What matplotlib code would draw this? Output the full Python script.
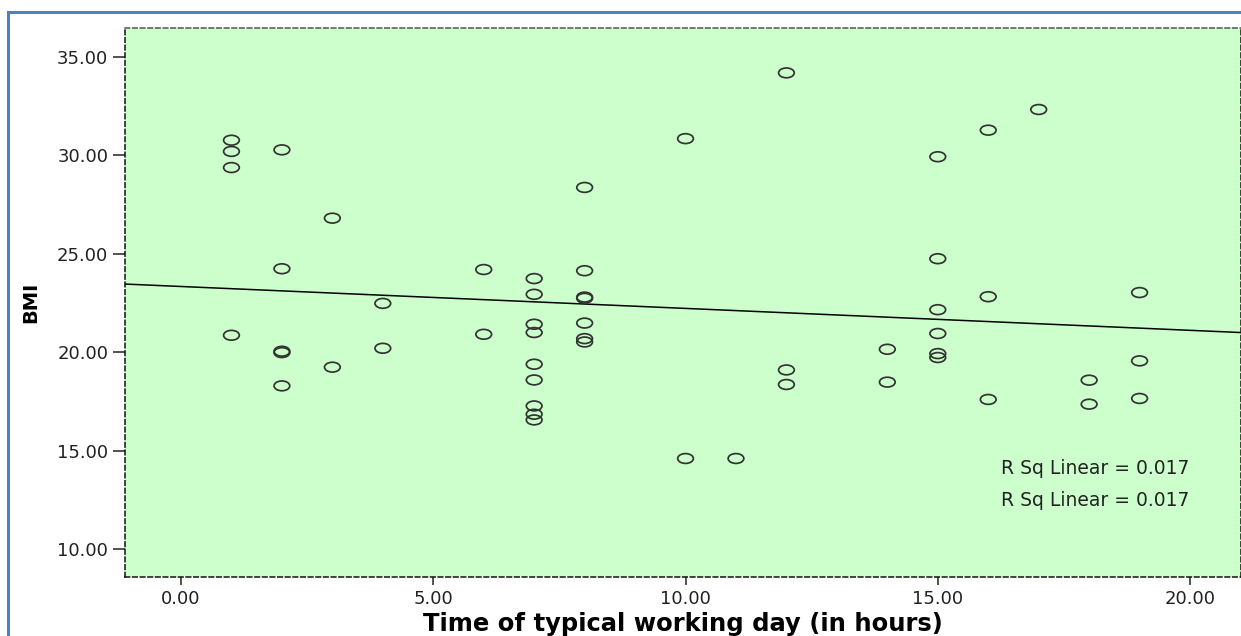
import numpy as np
import matplotlib
matplotlib.use("Agg")
import matplotlib.pyplot as plt
from matplotlib.path import Path
from matplotlib.transforms import Affine2D
from matplotlib.lines import Line2D

# Data: hours of typical working day vs BMI
hours = [1, 1, 1, 1,
         2, 2, 2, 2, 2,
         3, 3,
         4, 4,
         6, 6,
         7, 7, 7, 7, 7, 7, 7, 7, 7,
         8, 8, 8, 8, 8, 8, 8,
         10, 10,
         11,
         12, 12, 12,
         14, 14,
         15, 15, 15, 15, 15, 15,
         16, 16, 16,
         17,
         18, 18,
         19, 19, 19]
bmi = [30.77, 30.20, 29.38, 20.86,
       30.28, 24.24, 20.05, 19.98, 18.29,
       26.81, 19.24,
       22.48, 20.20,
       24.20, 20.91,
       23.74, 22.94, 21.42, 21.00, 19.39, 18.59, 17.27, 16.85, 16.56,
       28.37, 24.14, 22.80, 22.74, 21.48, 20.69, 20.52,
       30.85, 14.60,
       14.60,
       34.19, 19.10, 18.36,
       20.15, 18.48,
       29.93, 24.75, 22.16, 20.95, 19.93, 19.73,
       31.28, 22.82, 17.60,
       32.33,
       18.58, 17.36,
       23.03, 19.56, 17.65]

x_ticks = [0, 5, 10, 15, 20]
y_ticks = [10, 15, 20, 25, 30, 35]
x_label = "Time of typical working day (in hours)"
y_label = "BMI"
r2_text = "R Sq Linear = 0.017"

W, H = 1241, 636
fig = plt.figure(figsize=(W / 100, H / 100), dpi=100)
fig.patch.set_facecolor("white")

# outer blue frame
fig.add_artist(Line2D([8 / W, 8 / W], [0, 1 - 12 / H], color="#4f81bd", lw=2.2,
                      transform=fig.transFigure))
fig.add_artist(Line2D([8 / W, 1], [1 - 12 / H, 1 - 12 / H], color="#4f81bd", lw=2.2,
                      transform=fig.transFigure))

ax = fig.add_axes([125 / W, (636 - 577) / H, (1241 - 125) / W, (577 - 28) / H])
ax.set_facecolor("#ccffcc")

xs = np.array(hours, dtype=float)
ys = np.array(bmi, dtype=float)

ell = Path.unit_circle().transformed(Affine2D().scale(1.6, 1.0))
ax.scatter(xs, ys, marker=ell, s=11.3 ** 2, facecolors="none",
           edgecolors="#333333", linewidths=1.25, zorder=3)

xmin, xmax = -1.11, 21.01
ymin, ymax = 8.58, 36.47
slope, intercept = np.polyfit(xs, ys, 1)
lx = np.array([xmin, xmax])
ax.plot(lx, intercept + slope * lx, color="black", lw=1.1, zorder=2)

ax.set_xlim(xmin, xmax)
ax.set_ylim(ymin, ymax)
ax.set_xticks(x_ticks)
ax.set_xticklabels([f"{t:.2f}" for t in x_ticks])
ax.set_yticks(y_ticks)
ax.set_yticklabels([f"{t:.2f}" for t in y_ticks])

for lab in ax.get_xticklabels() + ax.get_yticklabels():
    lab.set_fontfamily("DejaVu Sans")
    lab.set_fontsize(13)
    lab.set_color("#222222")
ax.tick_params(axis="y", direction="out", length=9, width=1.1, pad=3, colors="#222222")
ax.tick_params(axis="x", direction="out", length=6, width=1.1, pad=3, colors="#222222")

for side in ["left", "right", "top", "bottom"]:
    ax.spines[side].set_linestyle((0, (3, 2)))
    ax.spines[side].set_linewidth(1.1)
    ax.spines[side].set_color("#111111")
ax.spines["top"].set_color("#555555")

ax.set_xlabel(x_label, fontsize=17.5, fontweight="bold", family="DejaVu Sans", labelpad=3)
ax.set_ylabel(y_label, fontsize=14, fontweight="bold", family="DejaVu Sans", labelpad=12)

ax.text(1001, 636 - 468, r2_text, transform=None, fontsize=13.5, family="DejaVu Sans",
        color="#222222", va="center", ha="left")
ax.text(1001, 636 - 500, r2_text, transform=None, fontsize=13.5, family="DejaVu Sans",
        color="#222222", va="center", ha="left")

fig.savefig("out.png", dpi=100)
